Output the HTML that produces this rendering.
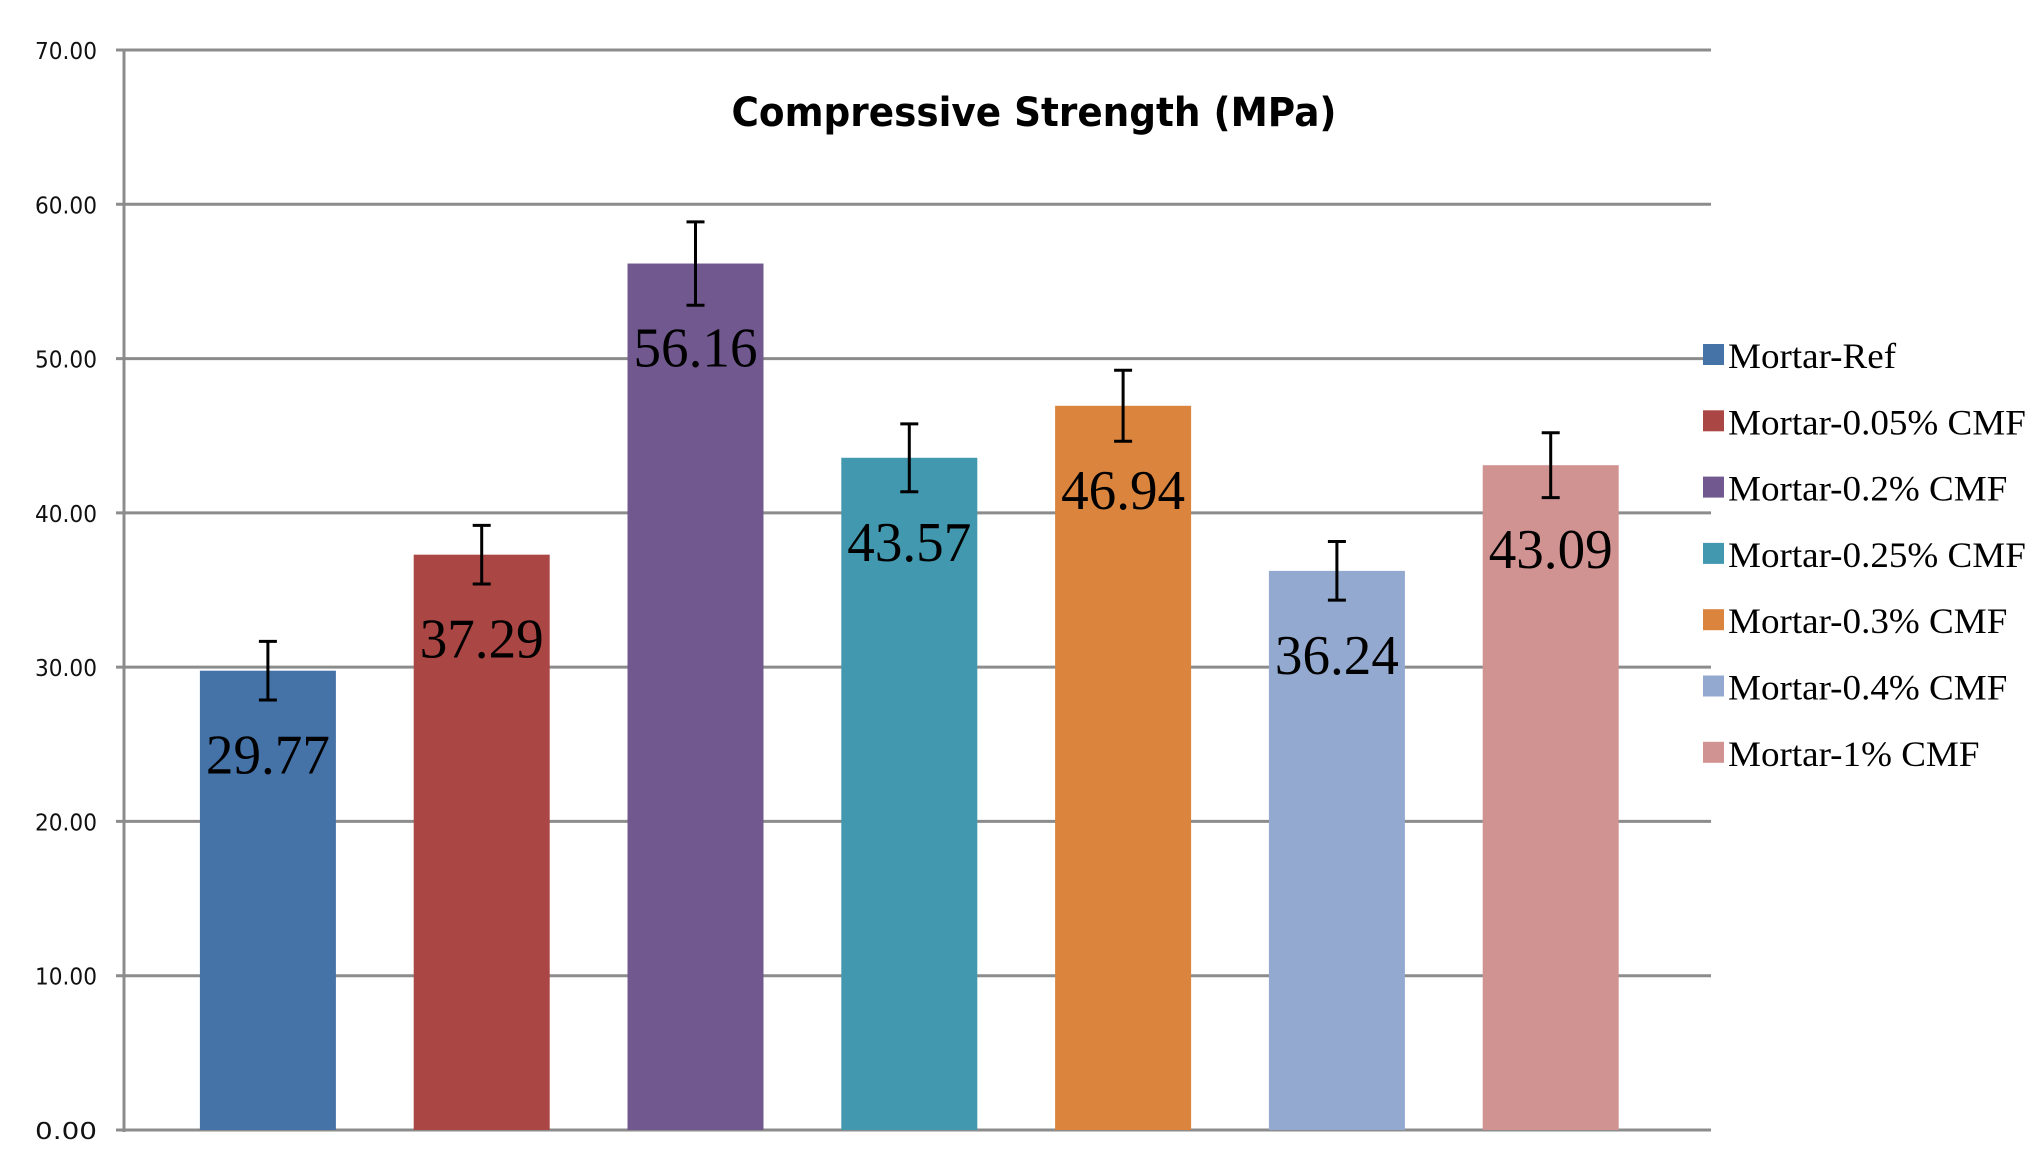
<!DOCTYPE html>
<html><head><meta charset="utf-8"><style>
html,body{margin:0;padding:0;background:#fff;}
svg{display:block;}
</style></head><body>
<svg id="chart" width="2040" height="1173" viewBox="0 0 2040 1173" xmlns="http://www.w3.org/2000/svg">
<rect width="2040" height="1173" fill="#fff"/>
<g id="grid"></g>
<g id="bars"></g>
<g id="legend"></g>
<text x="1034" y="126" text-anchor="middle" font-family="'DejaVu Sans','Liberation Sans',sans-serif" font-weight="bold" font-size="40" textLength="605" lengthAdjust="spacingAndGlyphs" fill="#000">Compressive Strength (MPa)</text>
</svg>
<script>
const categories = ["Mortar-Ref","Mortar-0.05% CMF","Mortar-0.2% CMF","Mortar-0.25% CMF","Mortar-0.3% CMF","Mortar-0.4% CMF","Mortar-1% CMF"];
const values = [29.77, 37.29, 56.16, 43.57, 46.94, 36.24, 43.09];
const errors = [1.9, 1.9, 2.7, 2.2, 2.3, 1.9, 2.1];
const labels = ["29.77","37.29","56.16","43.57","46.94","36.24","43.09"];
const colors = ["#4572A7","#AA4643","#71588F","#4198AF","#DB843D","#93A9CF","#D19392"];
const yTicks = [0,10,20,30,40,50,60,70];
const yTickLabels = ["0.00","10.00","20.00","30.00","40.00","50.00","60.00","70.00"];

const NS = "http://www.w3.org/2000/svg";
const X0 = 124, X1 = 1711, Y0 = 1130, Y70 = 50;
const y = v => Y0 - (v/70)*(Y0 - Y70);
const bandStart = 161, band = 213.8, barW = 136;
const xc = i => bandStart + band*(i+0.5);
function mk(tag, attrs, parent){const e=document.createElementNS(NS,tag);for(const k in attrs)e.setAttribute(k,attrs[k]);parent.appendChild(e);return e;}

const grid = document.getElementById('grid');
yTicks.forEach((t,i)=>{
  const l = mk('line',{x1:116,x2:X1,y1:y(t),y2:y(t),stroke:'#8c8c8c','stroke-width':3},grid);
  
  
  const tx = mk('text',{x:97,y:y(t)+9,'text-anchor':'end','font-family':"'DejaVu Sans','Liberation Sans',sans-serif",'font-size':23,fill:'#111',textLength:62,lengthAdjust:'spacingAndGlyphs'},grid);
  tx.textContent = yTickLabels[i];
  
  
});
const ax = mk('line',{x1:X0,x2:X0,y1:Y70,y2:Y0+2,stroke:'#8c8c8c','stroke-width':3},grid);



const bars = document.getElementById('bars');
values.forEach((v,i)=>{
  const cx = xc(i);
  const r = mk('rect',{x:cx-barW/2,y:y(v),width:barW,height:y(0)-y(v),fill:colors[i]},bars);
  
  
  const g = mk('g',{stroke:'#000','stroke-width':3},bars);
  
  
  mk('line',{x1:cx,x2:cx,y1:y(v+errors[i]),y2:y(v-errors[i])},g);
  mk('line',{x1:cx-9,x2:cx+9,y1:y(v+errors[i]),y2:y(v+errors[i])},g);
  mk('line',{x1:cx-9,x2:cx+9,y1:y(v-errors[i]),y2:y(v-errors[i])},g);
  const t = mk('text',{x:cx,y:y(v)+103,'text-anchor':'middle','font-family':"'Liberation Serif',serif",'font-size':56,fill:'#000',textLength:124,lengthAdjust:'spacingAndGlyphs'},bars);
  t.textContent = labels[i];
  
  
});

const legend = document.getElementById('legend');
categories.forEach((c,i)=>{
  const ly = 355 + i*66.3;
  const g = mk('g',{},legend);
  
  
  mk('rect',{x:1703,y:ly-11,width:21,height:21,fill:colors[i]},g);
  const t = mk('text',{x:1728,y:ly+13,'font-family':"'Liberation Serif',serif",'font-size':36,fill:'#000',transform:'translate(1728 0) scale(1.03 1) translate(-1728 0)'},g);
  t.textContent = c;
});
</script>
</body></html>
